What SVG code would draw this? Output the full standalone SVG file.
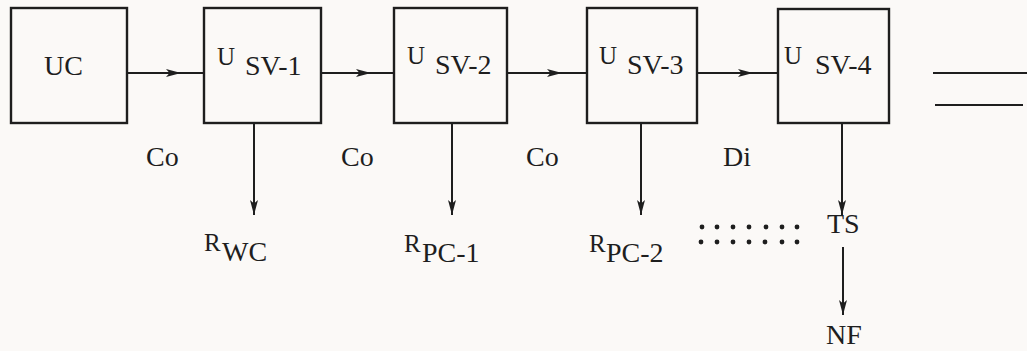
<svg xmlns="http://www.w3.org/2000/svg" width="1027" height="351" viewBox="0 0 1027 351">
<defs>
<marker id="ah" viewBox="0 0 15 9" refX="15" refY="4.5" markerWidth="15" markerHeight="9" markerUnits="userSpaceOnUse" orient="auto">
<path d="M0,0.5 L15,4.5 L0,8.5 L3.5,4.5 Z" fill="#1e1e1e"/>
</marker>
</defs>
<style>
.box{fill:none;stroke:#1e1e1e;stroke-width:2.4}
.ln{fill:none;stroke:#1e1e1e;stroke-width:2}
.t{font-family:"Liberation Serif","Times New Roman",serif;fill:#1e1e1e}
.m{font-size:28px}
.s{font-size:25px}
</style>
<rect width="1027" height="351" fill="#fbf9f7"/>
<g id="connectors">
<path class="ln" d="M127,73 L181,73 L204,73" marker-mid="url(#ah)"/>
<path class="ln" d="M321,73 L371,73 L394,73" marker-mid="url(#ah)"/>
<path class="ln" d="M507,73 L562,73 L587,73" marker-mid="url(#ah)"/>
<path class="ln" d="M697,73 L753,73 L778,73" marker-mid="url(#ah)"/>
<line class="ln" x1="254" y1="123" x2="254" y2="215" marker-end="url(#ah)"/>
<line class="ln" x1="452" y1="123" x2="452" y2="215" marker-end="url(#ah)"/>
<line class="ln" x1="641" y1="123" x2="641" y2="215" marker-end="url(#ah)"/>
<line class="ln" x1="842" y1="123" x2="842" y2="215" marker-end="url(#ah)"/>
<line class="ln" x1="843" y1="247" x2="843" y2="315" marker-end="url(#ah)"/>
<line class="ln" x1="933" y1="73" x2="1027" y2="73"/>
<line class="ln" x1="935" y1="105" x2="1023" y2="105"/>
</g>
<g id="uc">
<rect class="box" x="11" y="8" width="116" height="115"/>
<text class="t m" x="44" y="75">UC</text>
</g>
<g id="sv1">
<rect class="box" x="204" y="8" width="117" height="115"/>
<text class="t s" x="217" y="65">U</text>
<text class="t m" x="245" y="75">SV-1</text>
</g>
<g id="sv2">
<rect class="box" x="394" y="8" width="113" height="115"/>
<text class="t s" x="407" y="64">U</text>
<text class="t m" x="435" y="74">SV-2</text>
</g>
<g id="sv3">
<rect class="box" x="587" y="8" width="110" height="115"/>
<text class="t s" x="599" y="64">U</text>
<text class="t m" x="627" y="74">SV-3</text>
</g>
<g id="sv4">
<rect class="box" x="778" y="9" width="111" height="114"/>
<text class="t s" x="784" y="64">U</text>
<text class="t m" x="815" y="74">SV-4</text>
</g>
<g id="labels">
<text class="t m" x="146" y="166">Co</text>
<text class="t m" x="341" y="166">Co</text>
<text class="t m" x="526" y="166">Co</text>
<text class="t m" x="723" y="166">Di</text>
</g>
<g id="rwc">
<text class="t s" x="204" y="251">R</text>
<text class="t m" x="222" y="261">WC</text>
</g>
<g id="rpc1">
<text class="t s" x="404" y="252">R</text>
<text class="t m" x="422" y="262">PC-1</text>
</g>
<g id="rpc2">
<text class="t s" x="589" y="252">R</text>
<text class="t m" x="606" y="262">PC-2</text>
</g>
<g id="dots" fill="#1e1e1e">
<circle cx="702" cy="227" r="2.4"/><circle cx="717" cy="227" r="2.4"/><circle cx="733" cy="227" r="2.4"/><circle cx="749" cy="227" r="2.4"/><circle cx="766" cy="227" r="2.4"/><circle cx="782" cy="227" r="2.4"/><circle cx="797" cy="227" r="2.4"/>
<circle cx="701" cy="242" r="2.4"/><circle cx="717" cy="242" r="2.4"/><circle cx="733" cy="242" r="2.4"/><circle cx="749" cy="242" r="2.4"/><circle cx="765" cy="242" r="2.4"/><circle cx="782" cy="242" r="2.4"/><circle cx="797" cy="242" r="2.4"/>
</g>
<g id="ts">
<text class="t m" x="827" y="233">TS</text>
</g>
<g id="nf">
<text class="t m" x="826" y="344">NF</text>
</g>
</svg>
